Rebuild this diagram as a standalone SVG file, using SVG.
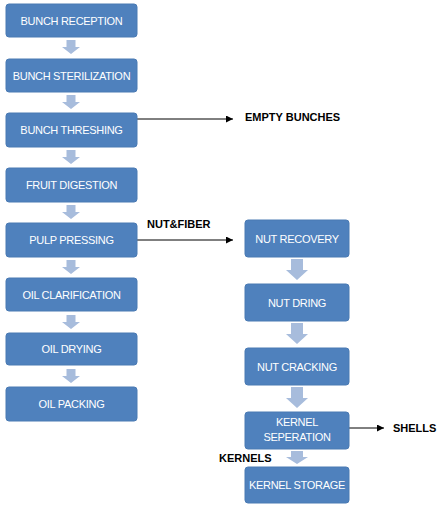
<svg xmlns="http://www.w3.org/2000/svg" width="444" height="511" viewBox="0 0 444 511">
<defs>
<style>
.box{fill:#4f81bd;stroke:#4a7ab3;stroke-width:1}
.t{font-family:"Liberation Sans",Arial,sans-serif;font-size:11px;letter-spacing:-0.3px;fill:#ffffff;text-anchor:middle}
.lbl{font-family:"Liberation Sans",Arial,sans-serif;font-size:11px;font-weight:bold;fill:#000000}
.blk{fill:#a7bcdc}
.ln{stroke:#000000;stroke-width:1;fill:none}
</style>
<marker id="ah" viewBox="0 0 10 10" refX="10" refY="5" markerWidth="9" markerHeight="7" markerUnits="userSpaceOnUse" orient="auto">
<path d="M0,0 L10,5 L0,10 Z" fill="#000000"/>
</marker>
</defs>
<rect width="444" height="511" fill="#ffffff"/>

<g id="connectors">
<path class="blk" d="M66.5,40 H75.5 V47 H80 L71,54 L62,47 H66.5 Z"/>
<path class="blk" d="M66.5,95 H75.5 V102 H80 L71,109 L62,102 H66.5 Z"/>
<path class="blk" d="M66.5,150 H75.5 V157 H80 L71,164 L62,157 H66.5 Z"/>
<path class="blk" d="M66.5,205 H75.5 V212 H80 L71,219 L62,212 H66.5 Z"/>
<path class="blk" d="M66.5,260 H75.5 V267 H80 L71,274 L62,267 H66.5 Z"/>
<path class="blk" d="M66.5,315 H75.5 V322 H80 L71,329 L62,322 H66.5 Z"/>
<path class="blk" d="M66.5,369 H75.5 V376 H80 L71,383 L62,376 H66.5 Z"/>
<path class="blk" d="M291,259 H303 V270 H308 L297,280 L286,270 H291 Z"/>
<path class="blk" d="M291,323 H303 V334 H308 L297,344 L286,334 H291 Z"/>
<path class="blk" d="M291,387 H303 V398 H308 L297,408 L286,398 H291 Z"/>
<path class="blk" d="M291,451 H303 V457 H308 L297,464 L286,457 H291 Z"/>
<line class="ln" x1="137" y1="119" x2="233" y2="119" marker-end="url(#ah)"/>
<line class="ln" x1="137" y1="240" x2="233" y2="240" marker-end="url(#ah)"/>
<line class="ln" x1="349" y1="428" x2="384" y2="428" marker-end="url(#ah)"/>
</g>

<g id="n1"><rect class="box" x="6" y="4" width="131" height="33" rx="3"/><text class="t" x="71.5" y="24.5">BUNCH RECEPTION</text></g>
<g id="n2"><rect class="box" x="6" y="59" width="131" height="33" rx="3"/><text class="t" x="71.5" y="79.5">BUNCH STERILIZATION</text></g>
<g id="n3"><rect class="box" x="6" y="113" width="131" height="34" rx="3"/><text class="t" x="71.5" y="134">BUNCH THRESHING</text></g>
<g id="n4"><rect class="box" x="6" y="168" width="131" height="34" rx="3"/><text class="t" x="71.5" y="189">FRUIT DIGESTION</text></g>
<g id="n5"><rect class="box" x="6" y="223" width="131" height="34" rx="3"/><text class="t" x="71.5" y="244">PULP PRESSING</text></g>
<g id="n6"><rect class="box" x="6" y="278" width="131" height="33" rx="3"/><text class="t" x="71.5" y="298.5">OIL CLARIFICATION</text></g>
<g id="n7"><rect class="box" x="6" y="333" width="131" height="32" rx="3"/><text class="t" x="71.5" y="353">OIL DRYING</text></g>
<g id="n8"><rect class="box" x="6" y="387" width="131" height="34" rx="3"/><text class="t" x="71.5" y="408">OIL PACKING</text></g>

<g id="n9"><rect class="box" x="245" y="220" width="104" height="37" rx="3"/><text class="t" x="297" y="242.5">NUT RECOVERY</text></g>
<g id="n10"><rect class="box" x="245" y="284" width="104" height="37" rx="3"/><text class="t" x="297" y="306.5">NUT DRING</text></g>
<g id="n11"><rect class="box" x="245" y="348" width="104" height="37" rx="3"/><text class="t" x="297" y="370.5">NUT CRACKING</text></g>
<g id="n12"><rect class="box" x="245" y="412" width="104" height="37" rx="3"/><text class="t" x="297" y="426">KERNEL</text><text class="t" x="297" y="441">SEPERATION</text></g>
<g id="n13"><rect class="box" x="245" y="467" width="104" height="36" rx="3"/><text class="t" x="297" y="489">KERNEL STORAGE</text></g>

<g id="labels">
<text class="lbl" x="245" y="121">EMPTY BUNCHES</text>
<text class="lbl" x="147" y="228">NUT&amp;FIBER</text>
<text class="lbl" x="393" y="432">SHELLS</text>
<text class="lbl" x="219" y="462">KERNELS</text>
</g>
</svg>
